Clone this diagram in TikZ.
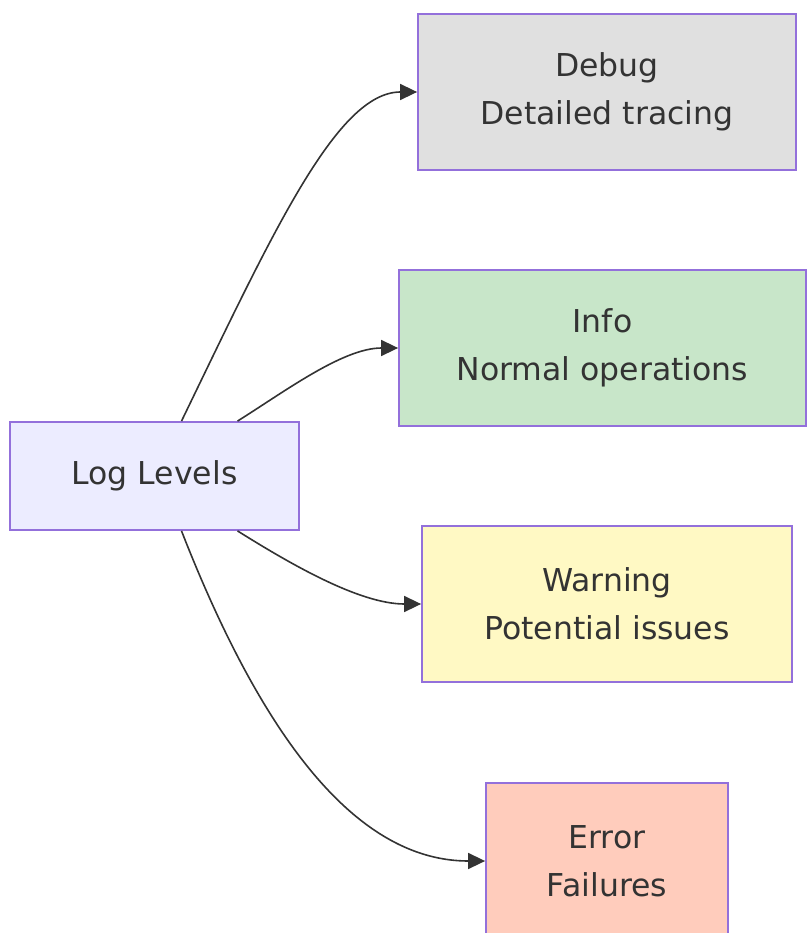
\documentclass[tikz,border=0pt]{standalone}
\usepackage{fontspec}
\setmainfont{DejaVu Sans}
\usepackage{xcolor}
\usepackage{tikz}
\usetikzlibrary{arrows.meta,calc}
\definecolor{lvlborder}{HTML}{9370DB}
\definecolor{lvltext}{HTML}{333333}
\definecolor{lvlroot}{HTML}{ECECFF}
\definecolor{lvldebug}{HTML}{E0E0E0}
\definecolor{lvlinfo}{HTML}{C8E6C9}
\definecolor{lvlwarn}{HTML}{FFF9C4}
\definecolor{lvlerror}{HTML}{FFCCBC}
\tikzset{
  level/.style = {
    draw=lvlborder, line width=1.8pt, text=lvltext, align=center,
    inner sep=0pt, minimum height=156pt,
    font=\fontsize{31.5}{48}\selectfont
  },
  link/.style = {
    draw=lvltext, line width=1.6pt,
    -{Triangle[length=17pt,width=16pt]}
  }
}

\begin{document}
\begin{tikzpicture}[x=1pt,y=-1pt]

  \useasboundingbox (0,0) rectangle (806,933);

  % source box
  \node[level, fill=lvlroot, minimum width=289pt, minimum height=108pt] (root) at (154.5,476) {Log Levels};

  % the four levels
  \node[level, fill=lvldebug, minimum width=378pt] (debug) at (607,92) {Debug\\Detailed tracing};
  \node[level, fill=lvlinfo,  minimum width=407pt] (info)  at (602.5,348) {Info\\Normal operations};
  \node[level, fill=lvlwarn,  minimum width=370pt] (warn)  at (607,604) {Warning\\Potential issues};
  \node[level, fill=lvlerror, minimum width=242pt] (error) at (607,861) {Error\\Failures};

  \draw[link] ([xshift=27pt]root.north) .. controls +(92,-190) and +(-80,0) .. (debug.west);
  \draw[link] ([xshift=83pt]root.north) to[out=32,in=180,looseness=0.8] (info.west);
  \draw[link] ([xshift=83pt]root.south) to[out=-32,in=180,looseness=0.8] (warn.west);
  \draw[link] ([xshift=27pt]root.south) .. controls +(84,215) and +(-125,0) .. (error.west);

\end{tikzpicture}
\end{document}
